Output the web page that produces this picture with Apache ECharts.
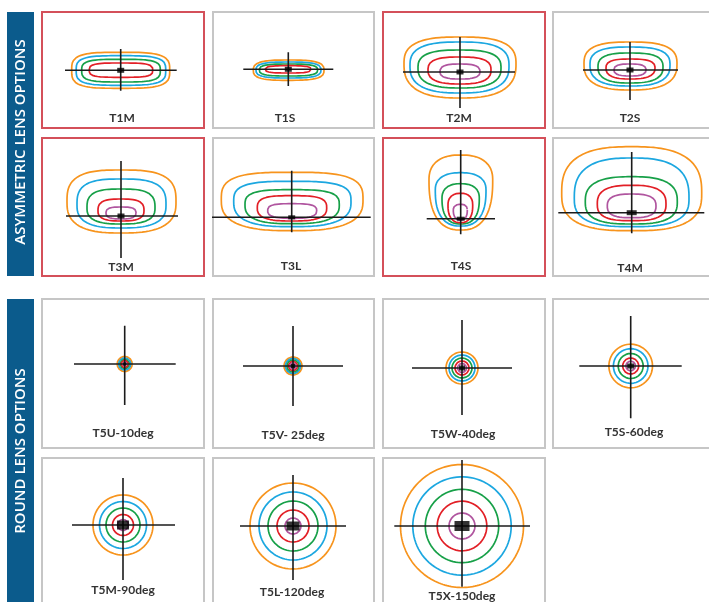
<!DOCTYPE html>
<html>
<head>
<meta charset="utf-8">
<script src="https://cdn.jsdelivr.net/npm/echarts@6/dist/echarts.min.js"></script>
<style>html,body{margin:0;padding:0;background:#fff}#c{width:709px;height:602px}</style>
</head>
<body>
<div id="c"></div>
<script>
// ---- Data (relative units, 1 unit = 1 px, origin at crosshair, y downward) ----
const panelNames = ['T1M','T1S','T2M','T2S','T3M','T3L','T4S','T4M',
  'T5U-10deg','T5V- 25deg','T5W-40deg','T5S-60deg','T5M-90deg','T5L-120deg','T5X-150deg'];
const highlighted = [1,0,1,0,1,0,1,0,0,0,0,0,0,0,0];
const sectionTitles = ['ASYMMETRIC LENS OPTIONS','ROUND LENS OPTIONS'];
const levelColors = ['#f7941d','#1ca7e0','#17a048','#e21f26','#b0559f']; // outer -> inner

// contour extents per panel: [left, right, top, bottom, widestY]
const T1M = [[-49,49,-18,18,0],[-44.5,45,-14.6,15,0],[-39,39.6,-11,11.7,0],[-31.4,32,-7.3,7,0]];
const T1S = [[-35,35.7,-9.3,11,1],[-32.3,32.7,-7.3,8.7,0.7],[-29,29.4,-5.3,6.7,0.7],[-23,22.7,-3.6,3.7,0]];
const T2M = [[-56,56,-35,26,-8],[-50,49,-30,21,-6],[-42,41,-22,16,-4],[-32,31,-15,12,-2],[-20,20,-8,7,0]];
const T2S = [[-46,47,-28,20,-6],[-40,40,-23,16,-5],[-32,33,-17,13,-3],[-24,25,-11,9,-2],[-16,16,-6,6,0]];
const T3M = [[-54,55,-46,17,-14],[-44,45,-37,12,-11],[-34,34,-27,8,-8],[-23,23,-17,5,-5],[-15,15,-9,3,-3]];
const T3L = [[-70.4,71.3,-45,13.4,-17.3],[-58,59.3,-36,9.4,-15.6],[-46.7,47.6,-27.6,6.4,-12.3],[-34.4,35,-21.6,3.7,-9],[-24,25,-13.6,1,-6.3]];
const T4S = [[-31.7,32,-63.7,11.3,-38.7],[-25.4,25.3,-46,7.3,-28.7],[-18.7,18.6,-35,5.3,-20.4],[-12.7,12,-25.4,4,-13.7],[-7.4,6.6,-14.4,1.3,-8.7]];
const T4M = [[-70,70,-66,18,-19.4],[-57.4,57.3,-54.7,14,-14.4],[-46.4,45.6,-36,11.3,-11],[-34.4,34.3,-27.4,8,-8.7],[-24.4,24.3,-18.7,5,-6.7]];
// round lenses: radii outer -> inner
const T5U = [7.5,6,4.5,3.5,2];
const T5V = [9,7.5,6,4.5,3];
const T5W = [16,13,10,7,4.5];
const T5S = [21.8,17.3,12.5,8,4.8];
const T5M = [30,23.5,17,10.5,5.5];
const T5L = [43,34,25,16,8];
const T5X = [61.5,49.2,36.7,24.8,13];

// crosshair extents: [hLeft, hRight], [vTop, vBottom]
const crossH = [[-55.7,56],[-45,45],[-57,55],[-47,48],[-55,57],[-80,79],[-34,34.3],[-73.4,72.6],
  [-50.7,51],[-50,50],[-50,50],[-51.4,51],[-51,52],[-53,53],[-67.7,68]];
const crossV = [[-21.3,20.4],[-17,16.7],[-35,36],[-28,30],[-55,42],[-46.6,15],[-68.7,15.6],[-60.7,20.6],
  [-38.3,41],[-40,40],[-48,47],[-50,52.3],[-47,55],[-51,54],[-66,60.7]];
const lampCenter = [[0,0]];

// ---- Layout / style ----
const cols = [[42,204],[213,374],[383,545],[553,715]];
const rows = [[12,128],[138,276],[299,448],[458,616]];
const centersPx = [[120.7,70.3],[288.3,69.3],[460,72],[630,70],
  [121,216],[291.7,217.3],[460.7,218.7],[631.7,212.7],
  [124.7,364],[293,366],[462,368],[630.7,366],
  [123,525],[293,526],[462,526]];
const labelPx = [[122,118],[285,118],[459,118],[630,118],
  [121,267],[291,266],[461,266],[630,268],
  [123,433],[293,435],[463,434],[634,432],
  [123,590],[292,592],[462,596]];
const squareSize = [[7,5],[7,5],[7,5],[7,5],[7,5],[7,4],[8,4],[10,5],
  [3,3],[4,4],[6,5],[7,5],[12,9],[13,9],[15,10]];
const exps = [[3.5,3.5],[3,3],[2.8,2.6],[2.8,2.6],[3,2.7],[3.2,2.7],[2.4,2.5],[2.7,2.8],
  [2,2],[2,2],[2,2],[2,2],[2,2],[2,2],[2,2]];
const contourSets = [T1M,T1S,T2M,T2S,T3M,T3L,T4S,T4M,
  T5U,T5V,T5W,T5S,T5M,T5L,T5X].map(s => typeof s[0] === 'number' ? s.map(r => [-r,r,-r,r,0]) : s);

function shape(c, nT, nB) {
  const [l, r, t, b, w] = c;
  const pts = [];
  const N = 180;
  for (let k = 0; k <= N; k++) {
    const th = 2 * Math.PI * k / N;
    const co = Math.cos(th), si = Math.sin(th);
    const n = si < 0 ? nT : nB;
    const fx = Math.pow(Math.abs(co), 2 / n), fy = Math.pow(Math.abs(si), 2 / n);
    const x = co >= 0 ? r * fx : l * fx;
    const y = si < 0 ? w - (w - t) * fy : w + (b - w) * fy;
    pts.push([x, y]);
  }
  return pts;
}

const grid = [], xAxis = [], yAxis = [], series = [], title = [];
panelNames.forEach((name, i) => {
  const col = cols[i % 4], row = rows[Math.floor(i / 4)];
  const [cx, cy] = centersPx[i];
  grid.push({left: col[0], top: row[0], width: col[1] - col[0], height: row[1] - row[0],
    outerBoundsMode: 'none', containLabel: false,
    show: true, backgroundColor: '#fff', borderWidth: 2,
    borderColor: highlighted[i] ? '#d4505a' : '#c6c6c6'});
  xAxis.push({gridIndex: i, type: 'value', min: col[0] - cx, max: col[1] - cx, show: false});
  yAxis.push({gridIndex: i, type: 'value', inverse: true, min: row[0] - cy, max: row[1] - cy, show: false});
  contourSets[i].forEach((c, k) => {
    series.push({type: 'line', xAxisIndex: i, yAxisIndex: i, data: shape(c, exps[i][0], exps[i][1]),
      showSymbol: false, silent: true, animation: false, z: 2,
      lineStyle: {color: levelColors[k], width: 1.7}});
  });
  series.push({type: 'line', xAxisIndex: i, yAxisIndex: i, data: [[crossH[i][0], 0], [crossH[i][1], 0]],
    showSymbol: false, silent: true, animation: false, z: 3, lineStyle: {color: '#1b1b1b', width: 1.6}});
  series.push({type: 'line', xAxisIndex: i, yAxisIndex: i, data: [[0, crossV[i][0]], [0, crossV[i][1]]],
    showSymbol: false, silent: true, animation: false, z: 3, lineStyle: {color: '#1b1b1b', width: 1.6}});
  series.push({type: 'scatter', xAxisIndex: i, yAxisIndex: i, data: lampCenter, symbol: 'rect',
    symbolSize: squareSize[i], itemStyle: {color: '#000'}, silent: true, animation: false, z: 4});
  title.push({text: name, left: labelPx[i][0], top: labelPx[i][1], textAlign: 'center',
    textVerticalAlign: 'middle', padding: 0,
    textStyle: {fontFamily: 'Lato', fontWeight: 'bold', fontSize: 12, color: '#333'}});
});

const chart = echarts.init(document.getElementById('c'), null, {renderer: 'canvas'});
chart.setOption({
  animation: false,
  title, grid, xAxis, yAxis, series,
  graphic: [
    {type: 'rect', left: 7, top: 12, shape: {width: 27, height: 264}, style: {fill: '#0b5b8c'}, z: 10},
    {type: 'rect', left: 7, top: 299, shape: {width: 27, height: 303}, style: {fill: '#0b5b8c'}, z: 10},
    {type: 'text', x: 21, y: 142, rotation: Math.PI / 2, z: 11,
      style: {text: sectionTitles[0], fill: '#fff', font: '600 15px "Open Sans"', align: 'center', verticalAlign: 'middle'}},
    {type: 'text', x: 21, y: 451, rotation: Math.PI / 2, z: 11,
      style: {text: sectionTitles[1], fill: '#fff', font: '600 15px "Open Sans"', align: 'center', verticalAlign: 'middle'}}
  ]
});
</script>
</body>
</html>
